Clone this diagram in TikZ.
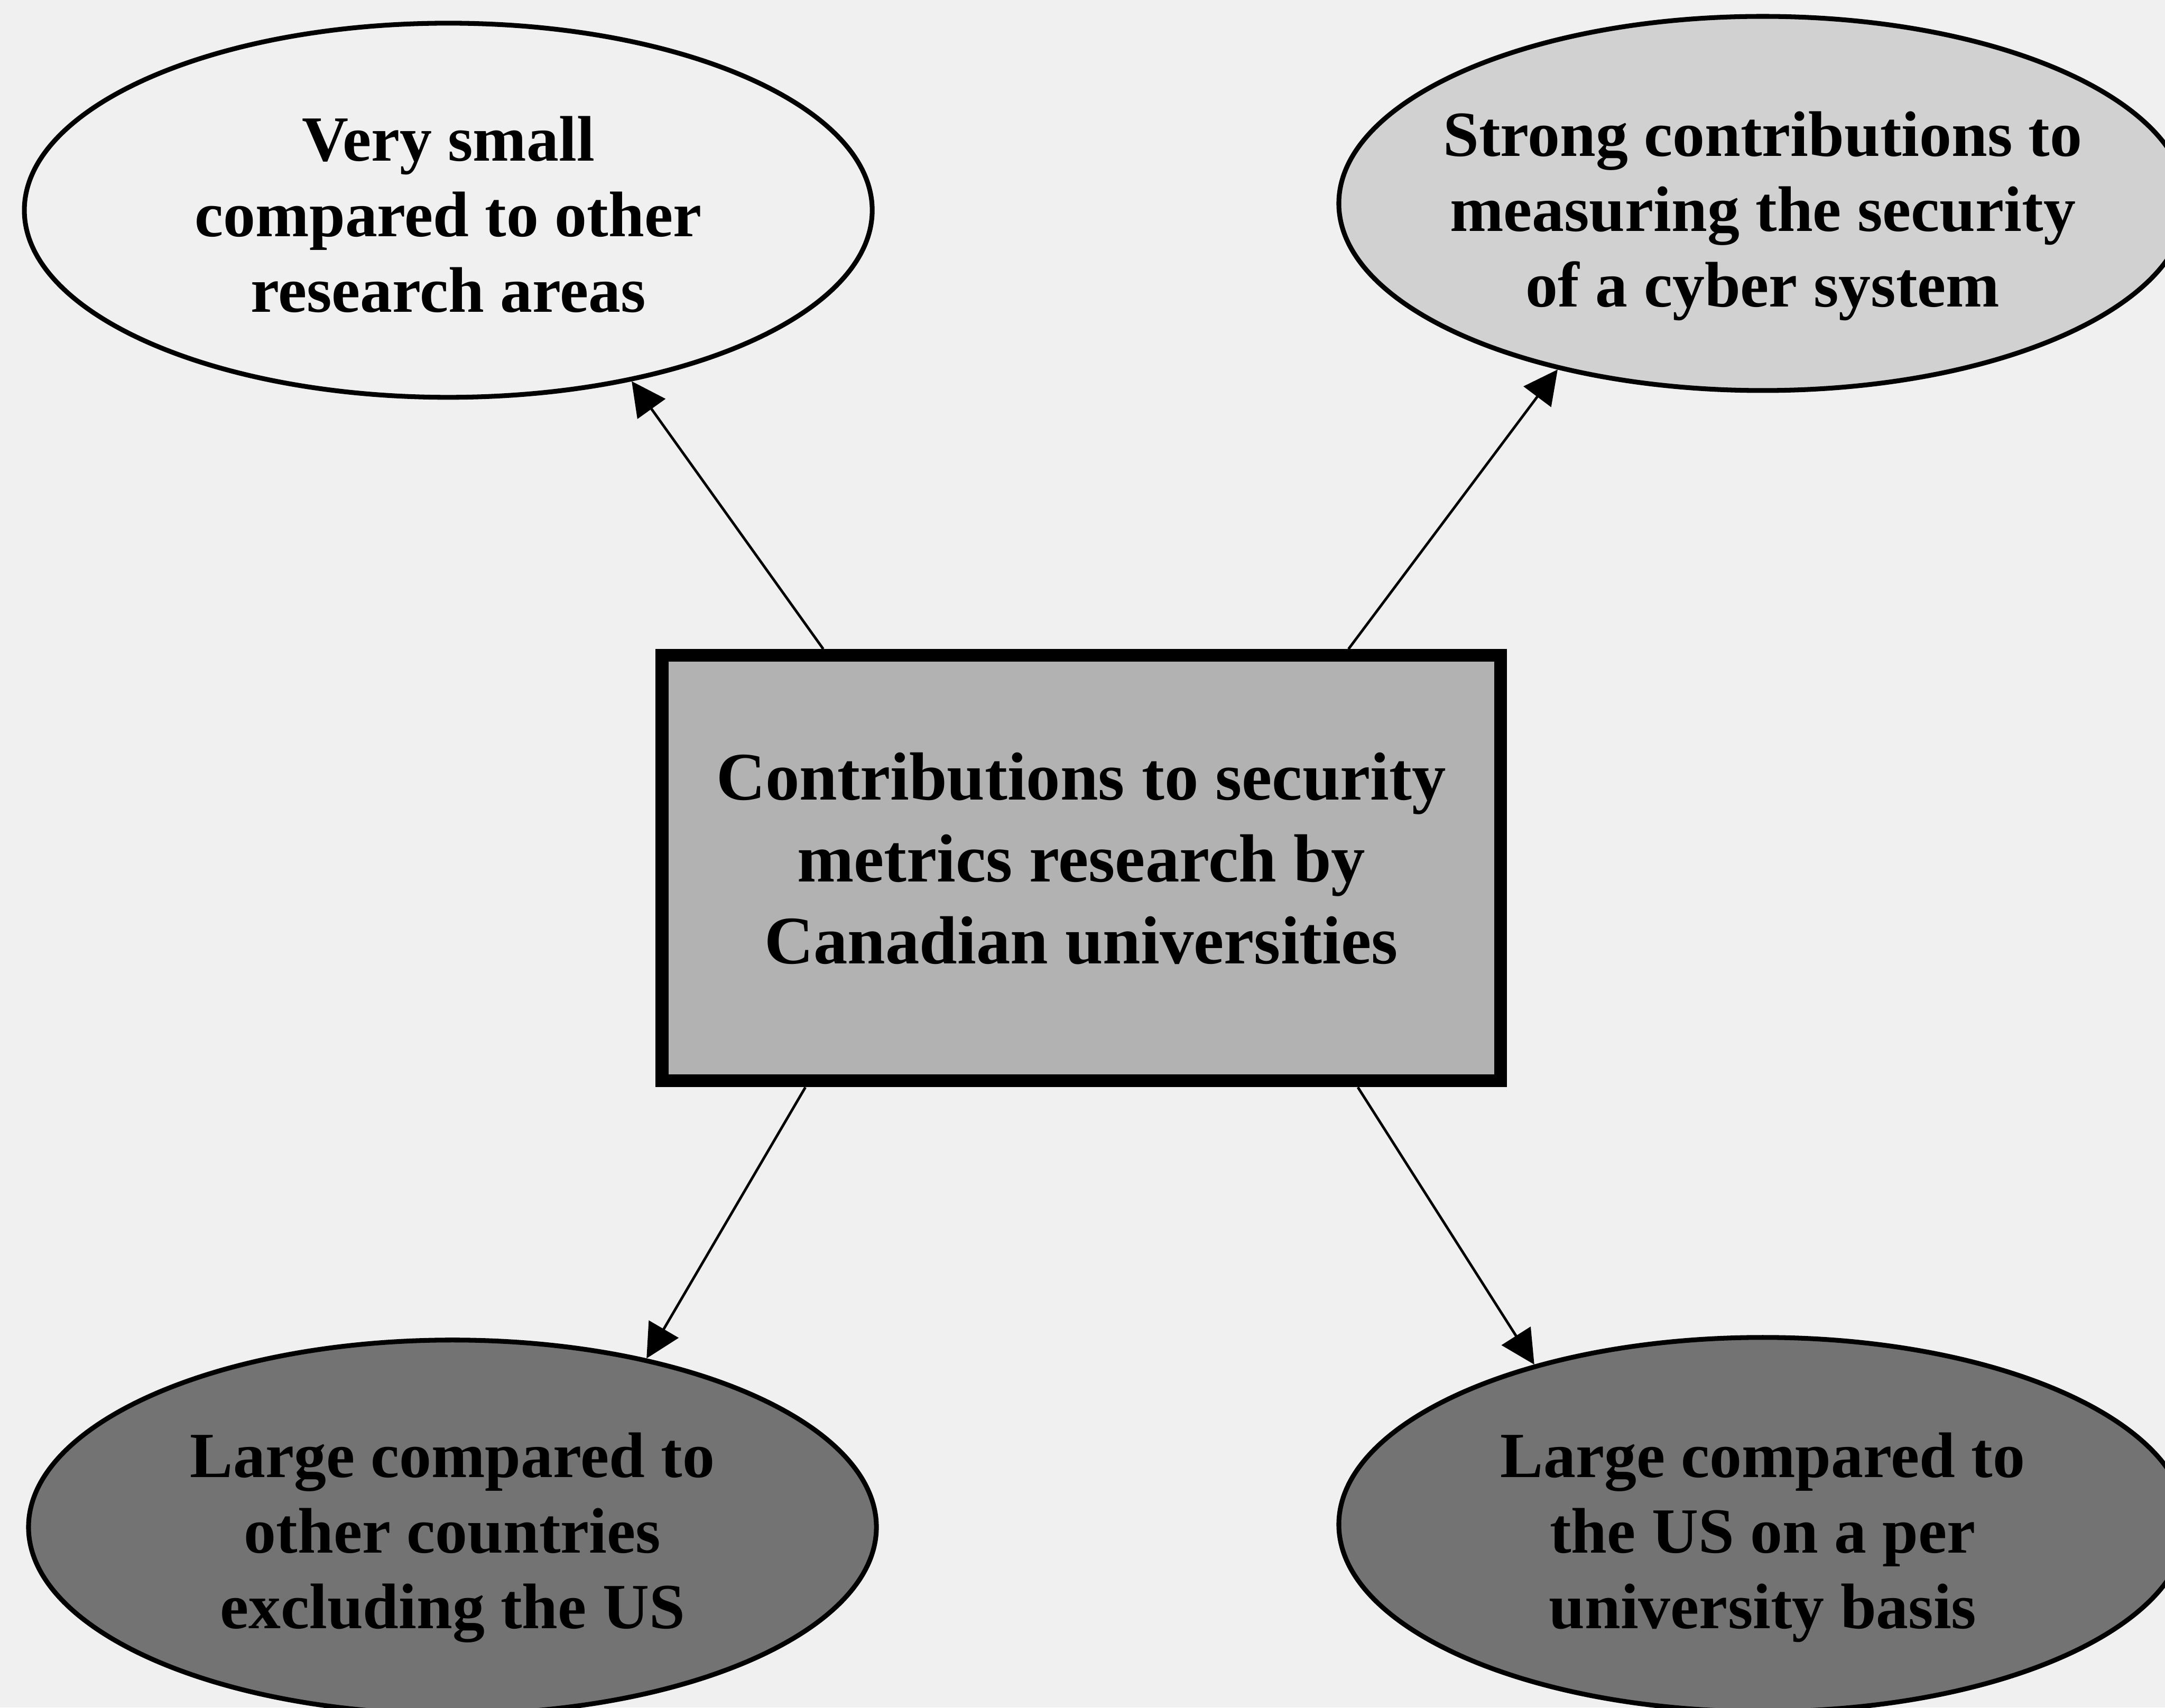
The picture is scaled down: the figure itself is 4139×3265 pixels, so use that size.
\documentclass[tikz,border=0pt]{standalone}
\usepackage{fontspec}
\setmainfont{Liberation Serif}
\usetikzlibrary{shapes.geometric,arrows.meta,calc}
\definecolor{bgc}{gray}{0.94}
\definecolor{lightfill}{gray}{0.82}
\definecolor{boxfill}{gray}{0.70}
\definecolor{darkfill}{gray}{0.45}
\tikzset{
  ell/.style={ellipse, draw=black, line width=2.6pt, inner sep=0pt,
    minimum width=16.2cm, minimum height=7.15cm},
  txt/.style={align=center, font=\fontsize{35}{41}\selectfont\bfseries, text=black},
  bigtxt/.style={align=center, font=\fontsize{37}{44.5}\selectfont\bfseries, text=black},
  mainbox/.style={rectangle, draw=black, line width=7pt, fill=boxfill, inner sep=0pt,
    minimum width=16.02cm, minimum height=8.13cm},
  arr/.style={line width=1.4pt, -{Triangle[length=6.5mm,width=6.5mm]}}
}
\begin{document}
\begin{tikzpicture}[x=0.01cm,y=-0.01cm]
\useasboundingbox (0,0) rectangle (4139,3265);
\fill[bgc] (0,0) rectangle (4139,3265);

\node[ell, fill=bgc] (tl) at (857,402) {};
\node[txt] (tltxt) at ($(tl.center)+(0,8)$) {Very small\\compared to other\\research areas};

\node[ell, fill=lightfill] (tr) at (3370,389) {};
\node[txt] (trtxt) at ($(tr.center)+(0,24)$) {Strong contributions to\\measuring the security\\of a cyber system};

\node[ell, fill=darkfill] (bl) at (865,2920) {};
\node[txt] (bltxt) at ($(bl.center)+(0,20)$) {Large compared to\\other countries\\excluding the US};

\node[ell, fill=darkfill] (br) at (3370,2915) {};
\node[txt] (brtxt) at ($(br.center)+(0,25)$) {Large compared to\\the US on a per\\university basis};

\node[mainbox] (box) at (2067,1660) {};
\node[bigtxt] (boxtxt) at ($(box.center)+(0,-18)$) {Contributions to security\\metrics research by\\Canadian universities};

\draw[arr] ($(box.north west)!0.197!(box.north east)$) -- (tl.-43.5);
\draw[arr] ($(box.north west)!0.814!(box.north east)$) -- (tr.-141.8);
\draw[arr] ($(box.south west)!0.176!(box.south east)$) -- (bl.41.1);
\draw[arr] ($(box.south west)!0.825!(box.south east)$) -- (br.145.3);
\end{tikzpicture}
\end{document}
